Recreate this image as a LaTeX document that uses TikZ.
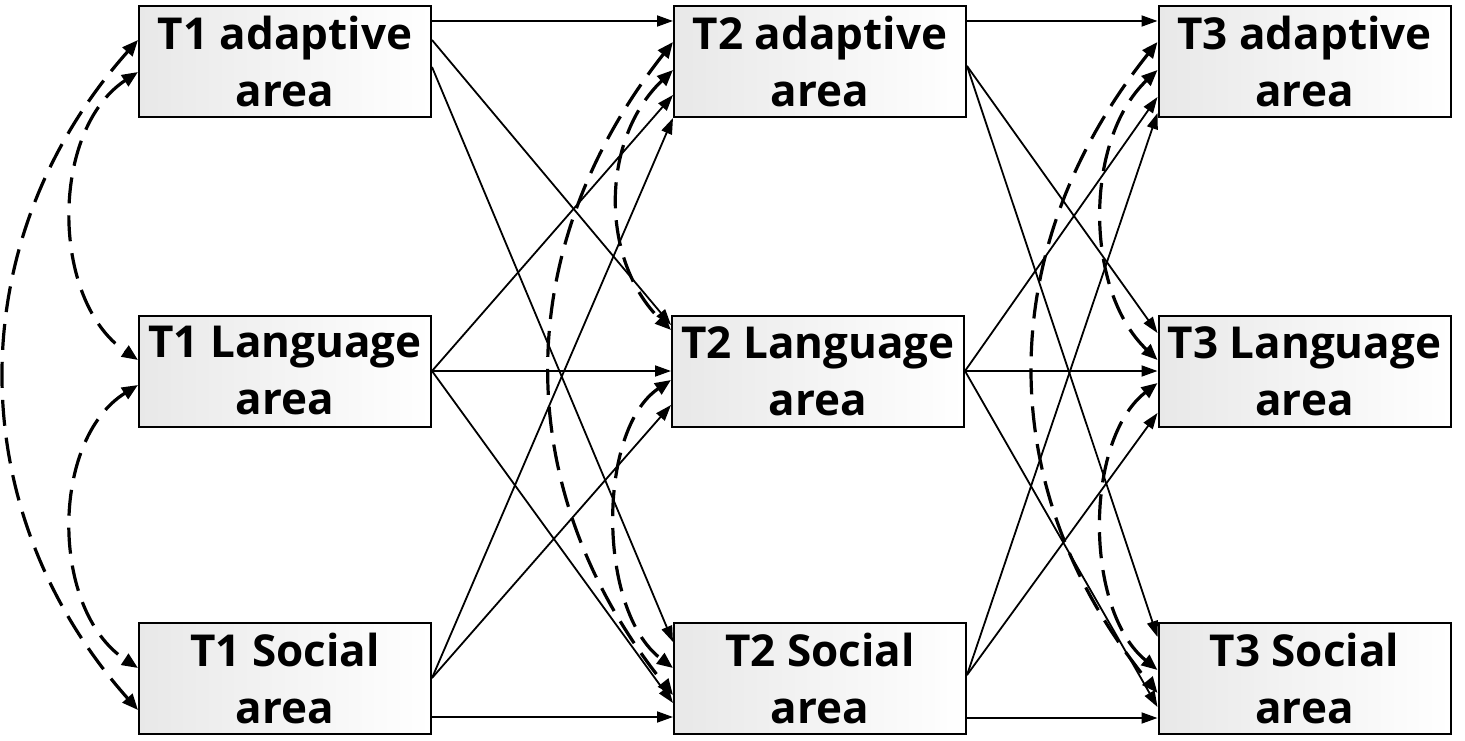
\documentclass[tikz,border=0pt]{standalone}
\usepackage{fontspec}
\setmainfont{Open Sans}
\usetikzlibrary{arrows.meta}
\begin{document}
\begin{tikzpicture}[x=1pt,y=-1pt,
  box/.style={draw, line width=2pt, minimum width=292pt, minimum height=111pt, inner sep=0pt,
    left color=black!9, right color=white, align=center,
    font=\fontsize{44}{57}\selectfont\bfseries},
  sol/.style={line width=1.8pt, -{Triangle[length=16pt,width=11pt]}},
  dsh/.style={line width=3.2pt, dash pattern=on 26pt off 12pt,
    {Triangle[length=16pt,width=13pt]}-{Triangle[length=16pt,width=13pt]}}]
\useasboundingbox (0,0) rectangle (1465,741);

\node[box] (t1a) at (285,62) {T1 adaptive\\area};
\node[box] (t1L) at (285,371) {T1 Language\\area};
\node[box] (t1S) at (285,678) {T1 Social\\area};
\node[box] (t2a) at (820,62) {T2 adaptive\\area};
\node[box] (t2L) at (818,371) {T2 Language\\area};
\node[box] (t2S) at (820,678) {T2 Social\\area};
\node[box] (t3a) at (1304.5,62) {T3 adaptive\\area};
\node[box] (t3L) at (1304.5,371) {T3 Language\\area};
\node[box] (t3S) at (1304.5,678) {T3 Social\\area};

% T1 -> T2
\draw[sol] ([yshift=41pt]t1a.east) -- ([yshift=41pt]t2a.west);
\draw[sol] ([yshift=22pt]t1a.east) -- ([yshift=46pt]t2L.west);
\draw[sol] ([yshift=-5pt]t1a.east) -- ([yshift=36pt]t2S.west);
\draw[sol] (t1L.east) -- ([yshift=-33pt]t2a.west);
\draw[sol] (t1L.east) -- (t2L.west);
\draw[sol] (t1L.east) -- ([yshift=-25pt]t2S.west);
\draw[sol] (t1S.east) -- ([yshift=-56pt]t2a.west);
\draw[sol] (t1S.east) -- ([yshift=-34pt]t2L.west);
\draw[sol] ([yshift=-39pt]t1S.east) -- ([yshift=-39pt]t2S.west);

% T2 -> T3
\draw[sol] ([yshift=41pt]t2a.east) -- ([yshift=41pt]t3a.west);
\draw[sol] ([yshift=-4pt]t2a.east) -- ([yshift=38pt]t3L.west);
\draw[sol] ([yshift=-4pt]t2a.east) -- ([yshift=41pt]t3S.west);
\draw[sol] (t2L.east) -- ([yshift=-35pt]t3a.west);
\draw[sol] (t2L.east) -- (t3L.west);
\draw[sol] (t2L.east) -- ([yshift=-29pt]t3S.west);
\draw[sol] ([yshift=3pt]t2S.east) -- ([yshift=-51pt]t3a.west);
\draw[sol] ([yshift=3pt]t2S.east) -- ([yshift=-42pt]t3L.west);
\draw[sol] ([yshift=-40pt]t2S.east) -- ([yshift=-40pt]t3S.west);

% T1 correlations
\draw[dsh] ([yshift=22pt]t1a.west) .. controls (-40,240) and (-40,510) .. ([yshift=-32pt]t1S.west);
\draw[dsh] ([yshift=-10pt]t1a.west) .. controls (50,130) and (50,300) .. ([yshift=11pt]t1L.west);
\draw[dsh] ([yshift=-14pt]t1L.west) .. controls (50,440) and (50,610) .. ([yshift=10pt]t1S.west);

% T2 correlations
\draw[dsh] ([yshift=20pt]t2a.west) .. controls (509,250) and (509,490) .. ([yshift=-17pt]t2S.west);
\draw[dsh] ([yshift=-8pt]t2a.west) .. controls (600,140) and (600,260) .. ([yshift=41pt]t2L.west);
\draw[dsh] ([yshift=-9pt]t2L.west) .. controls (597,430) and (597,610) .. ([yshift=10pt]t2S.west);

% T3 correlations
\draw[dsh] ([yshift=20pt]t3a.west) .. controls (992,250) and (992,490) .. ([yshift=-15pt]t3S.west);
\draw[dsh] ([yshift=-8pt]t3a.west) .. controls (1084,140) and (1084,290) .. ([yshift=11pt]t3L.west);
\draw[dsh] ([yshift=-12pt]t3L.west) .. controls (1084,440) and (1084,610) .. ([yshift=8pt]t3S.west);
\end{tikzpicture}
\end{document}
